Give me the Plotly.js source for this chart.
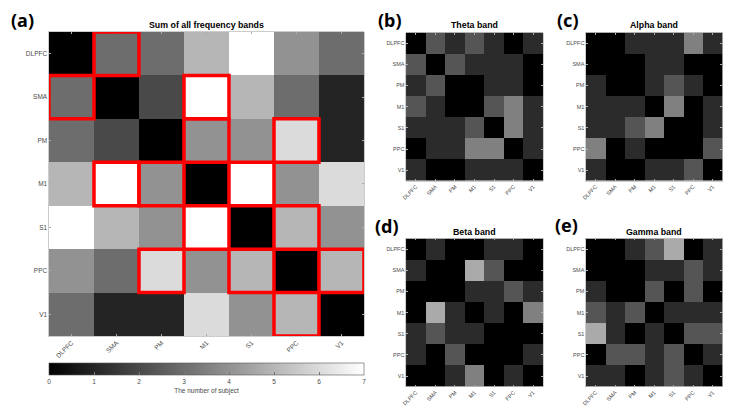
<!DOCTYPE html>
<html>
<head>
<meta charset="utf-8">
<script src="https://cdn.plot.ly/plotly-3.0.1.min.js"></script>
<style>html,body{margin:0;padding:0;background:#fff;}#chart{width:730px;height:409px;}</style>
</head>
<body>
<div id="chart"></div>
<script>
// ---- data ----
const regions = ["DLPFC", "SMA", "PM", "M1", "S1", "PPC", "V1"];
const sumAll = [
  [0, 3, 3, 5, 7, 4, 3],
  [3, 0, 2, 7, 5, 3, 1],
  [3, 2, 0, 4, 4, 6, 1],
  [5, 7, 4, 0, 7, 4, 6],
  [7, 5, 4, 7, 0, 5, 4],
  [4, 3, 6, 4, 5, 0, 5],
  [3, 1, 1, 6, 4, 5, 0]
];
const theta = [
  [0, 2, 1, 2, 1, 0, 1],
  [2, 0, 2, 1, 1, 1, 0],
  [1, 2, 0, 0, 1, 1, 0],
  [2, 1, 0, 0, 2, 3, 1],
  [1, 1, 1, 2, 0, 3, 1],
  [0, 1, 1, 3, 3, 0, 1],
  [1, 0, 0, 1, 1, 1, 0]
];
const alpha = [
  [0, 0, 1, 1, 1, 3, 1],
  [0, 0, 0, 1, 1, 0, 0],
  [1, 0, 0, 1, 2, 1, 0],
  [1, 1, 1, 0, 3, 0, 1],
  [1, 1, 2, 3, 0, 0, 1],
  [3, 0, 1, 0, 0, 0, 2],
  [1, 0, 0, 1, 1, 2, 0]
];
const beta = [
  [0, 1, 0, 0, 1, 1, 0],
  [1, 0, 0, 4, 2, 0, 0],
  [0, 0, 0, 1, 1, 2, 1],
  [0, 4, 1, 0, 1, 0, 3],
  [1, 2, 1, 1, 0, 0, 0],
  [1, 0, 2, 0, 0, 0, 1],
  [0, 0, 1, 3, 0, 1, 0]
];
const gamma = [
  [0, 0, 1, 2, 4, 0, 1],
  [0, 0, 0, 1, 1, 2, 1],
  [1, 0, 0, 2, 0, 2, 0],
  [2, 1, 2, 0, 1, 1, 1],
  [4, 1, 0, 1, 0, 2, 2],
  [0, 2, 2, 1, 2, 0, 1],
  [1, 1, 0, 1, 2, 1, 0]
];
const sigPairs = [
  ["DLPFC", "SMA"], ["SMA", "M1"], ["PM", "M1"], ["PM", "PPC"],
  ["M1", "S1"], ["S1", "PPC"], ["PPC", "V1"]
];
const cbTicks = [0, 1, 2, 3, 4, 5, 6, 7];

// ---- build ----
const idx = regions.map((_, i) => i);
const gray = [[0, '#000000'], [1, '#ffffff']];
const FONT = 'Liberation Sans, Arial, sans-serif';
const TXT = '#4a4a4a';

function hm(z, xa, ya, zmax, showscale) {
  const t = {type: 'heatmap', x: idx, y: idx, z: z, xaxis: xa, yaxis: ya,
    colorscale: gray, zmin: 0, zmax: zmax, showscale: showscale, hoverinfo: 'skip'};
  if (showscale) {
    t.colorbar = {orientation: 'h', lenmode: 'pixels', len: 315, thickness: 12,
      thicknessmode: 'pixels', x: 0.2829, xanchor: 'center', y: 0.1125, yanchor: 'top',
      xpad: 0, ypad: 0, outlinecolor: '#555', outlinewidth: 0.6,
      tickvals: cbTicks, ticktext: cbTicks.map(String), ticks: 'inside', ticklen: 3,
      tickcolor: '#777', tickfont: {family: FONT, size: 6.5, color: TXT},
      title: {text: 'The number of subject', side: 'bottom', font: {family: FONT, size: 6.5, color: TXT}}};
  }
  return t;
}

function xax(domain, anchor, fs) {
  return {domain: domain, anchor: anchor, range: [-0.5, 6.5], tickvals: idx, ticktext: regions,
    tickangle: -45, tickfont: {family: FONT, size: fs, color: TXT}, ticks: 'inside', ticklen: 2,
    tickcolor: '#aaa', showline: true, linecolor: '#999', linewidth: 0.5, mirror: 'ticks',
    showgrid: false, zeroline: false, fixedrange: true};
}
function yax(domain, anchor, fs) {
  return {domain: domain, anchor: anchor, range: [6.5, -0.5], tickvals: idx, ticktext: regions,
    tickfont: {family: FONT, size: fs, color: TXT}, ticks: 'inside', ticklen: 2,
    tickcolor: '#aaa', showline: true, linecolor: '#999', linewidth: 0.5, mirror: 'ticks',
    showgrid: false, zeroline: false, fixedrange: true};
}

const data = [
  hm(sumAll, 'x', 'y', 7, true),
  hm(theta, 'x2', 'y2', 6, false),
  hm(alpha, 'x3', 'y3', 6, false),
  hm(beta, 'x4', 'y4', 6, false),
  hm(gamma, 'x5', 'y5', 6, false)
];

const shapes = [];
sigPairs.forEach(p => {
  const a = regions.indexOf(p[0]), b = regions.indexOf(p[1]);
  [[a, b], [b, a]].forEach(rc => {
    shapes.push({type: 'rect', xref: 'x', yref: 'y', x0: rc[1] - 0.5, x1: rc[1] + 0.5,
      y0: rc[0] - 0.5, y1: rc[0] + 0.5, line: {color: '#ff0000', width: 3.5}, layer: 'above'});
  });
});

function title(text, x, y) {
  return {text: text, xref: 'paper', yref: 'paper', x: x, y: y, xanchor: 'center', yanchor: 'middle',
    showarrow: false, font: {family: FONT, size: 8.8, color: '#000', weight: 'bold'}};
}
function panel(text, x, y) {
  return {text: text, xref: 'paper', yref: 'paper', x: x, y: y, xanchor: 'center', yanchor: 'middle',
    showarrow: false, font: {family: 'Noto Sans, sans-serif', size: 18, color: '#000', weight: 'bold'}};
}

const layout = {
  width: 730, height: 409, margin: {l: 0, r: 0, t: 0, b: 0},
  paper_bgcolor: '#ffffff', plot_bgcolor: '#ffffff', showlegend: false,
  xaxis: xax([0.0671, 0.4986], 'y', 6.5), yaxis: yax([0.1785, 0.9218], 'x', 6.5),
  xaxis2: xax([0.5562, 0.7438], 'y2', 5.5), yaxis2: yax([0.5575, 0.9205], 'x2', 5.5),
  xaxis3: xax([0.8027, 0.9897], 'y3', 5.5), yaxis3: yax([0.5575, 0.9205], 'x3', 5.5),
  xaxis4: xax([0.5562, 0.7438], 'y4', 5.5), yaxis4: yax([0.0545, 0.4169], 'x4', 5.5),
  xaxis5: xax([0.8027, 0.9897], 'y5', 5.5), yaxis5: yax([0.0545, 0.4169], 'x5', 5.5),
  shapes: shapes,
  annotations: [
    title('Sum of all frequency bands', 0.2829, 0.9389),
    title('Theta band', 0.65, 0.9389),
    title('Alpha band', 0.8962, 0.9389),
    title('Beta band', 0.65, 0.4328),
    title('Gamma band', 0.8962, 0.4328),
    panel('(a)', 0.0308, 0.9523),
    panel('(b)', 0.5336, 0.9523),
    panel('(c)', 0.7774, 0.9523),
    panel('(d)', 0.5308, 0.4479),
    panel('(e)', 0.7767, 0.4499)
  ]
};

Plotly.newPlot('chart', data, layout, {displayModeBar: false, staticPlot: true});
</script>
</body>
</html>
